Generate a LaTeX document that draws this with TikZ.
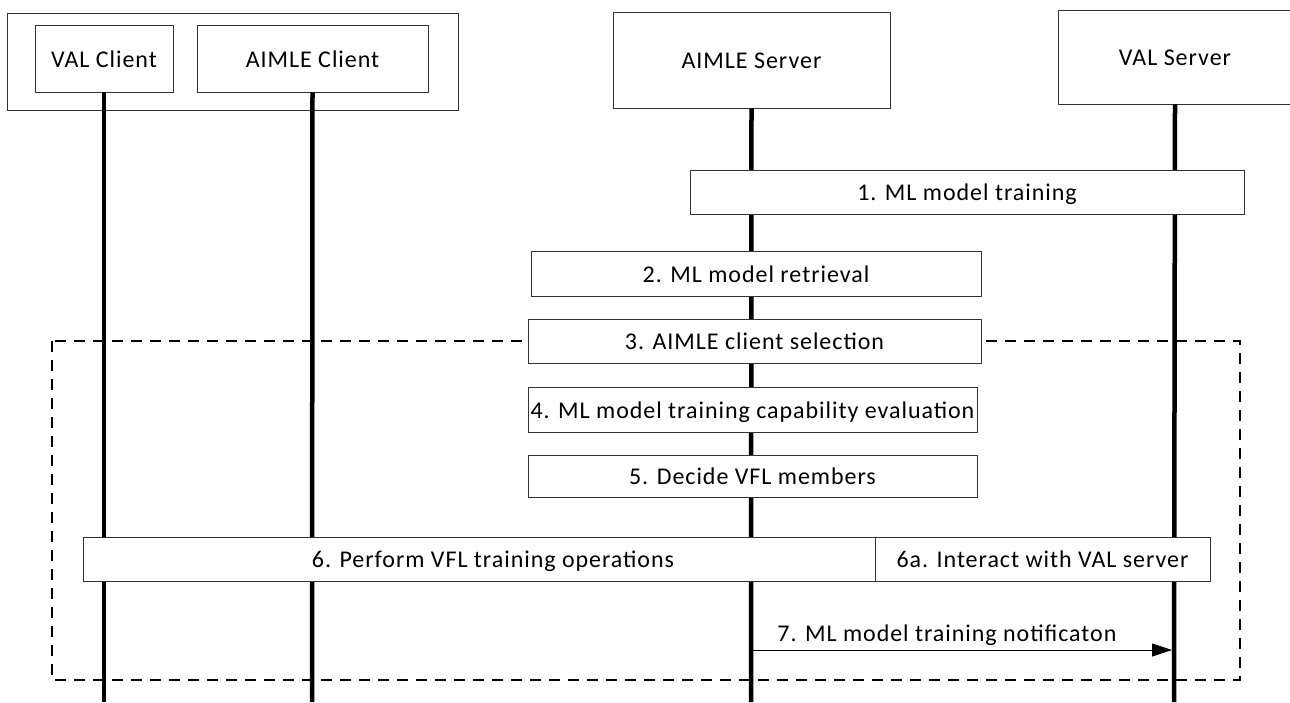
\documentclass[tikz,border=0pt]{standalone}
\usepackage{fontspec}
\setmainfont{Carlito}[LetterSpace=4]
\usetikzlibrary{arrows.meta}
\begin{document}
\begin{tikzpicture}[
    x=1pt,
    y=-1pt,
    >={Triangle[length=20pt,width=13pt]},
    txt/.style={font=\fontsize{24}{28}\selectfont,text height=18pt,text depth=1pt},
    entity/.style={draw=black!80,line width=0.8pt,fill=white,inner sep=0pt,txt},
    stepbox/.style={draw=black!80,line width=0.8pt,fill=white,inner sep=0pt,minimum height=44pt,txt},
    lifeline/.style={line width=4.5pt},
    message/.style={->,line width=0.8pt},
    loopframe/.style={line width=1.3pt,dash pattern=on 11pt off 8pt}
  ]
    \useasboundingbox (0,0) rectangle (1290,702);

    % entities
    \node[entity,minimum width=451pt,minimum height=97pt] (ue) at (232.5,61.5) {};
    \node[entity,minimum width=138pt,minimum height=67pt] (vc) at (104,58.5) {VAL Client};
    \node[entity,minimum width=231pt,minimum height=67pt] (ac) at (312.5,58.5) {AIMLE Client};
    \node[entity,minimum width=277pt,minimum height=96pt] (as) at (751.5,60) {AIMLE Server};
    \node[entity,minimum width=234pt,minimum height=94pt] (vs) at (1175,57) {VAL Server};

    \coordinate (vcend) at (104,702);
    \coordinate (acend) at (312,702);
    \coordinate (asend) at (751,702);
    \coordinate (vsend) at (1174,702);

    % loop frame
    \draw[loopframe] (52,341) rectangle (1240,680);

    \draw[lifeline] (vc.south) -- (vcend);
    \draw[lifeline] (ac.south) -- (acend);
    \draw[lifeline] (as.south) -- (asend);
    \draw[lifeline] (vs.south) -- (vsend);

    % steps
    \node[stepbox,minimum width=554pt] (s1) at (967,192) {1. ML model training};
    \node[stepbox,minimum width=450pt,minimum height=45pt] (s2) at (756,273.5) {2. ML model retrieval};
    \node[stepbox,minimum width=453pt] (s3) at (754.5,341) {3. AIMLE client selection};
    \node[stepbox,minimum width=449pt,minimum height=45pt] (s4) at (752.5,409.5)
      {4. ML model training capability evaluation};
    \node[stepbox,minimum width=449pt,minimum height=42pt] (s5) at (752.5,476) {5. Decide VFL members};
    \node[stepbox,minimum width=792pt] (s6) at (479,559) {\hspace*{28pt}6. Perform VFL training operations};
    \node[stepbox,minimum width=335pt] (s6a) at (1042.5,559) {6a. Interact with VAL server};

    \coordinate (m7a) at (751,650);
    \coordinate (m7b) at (1172,650);
    \draw[message] (m7a) -- (m7b)
      node[pos=0,anchor=south west,xshift=24pt,yshift=5pt,txt,inner sep=2pt] (m7)
      {7. ML model training notificaton};
  \end{tikzpicture}
\end{document}
